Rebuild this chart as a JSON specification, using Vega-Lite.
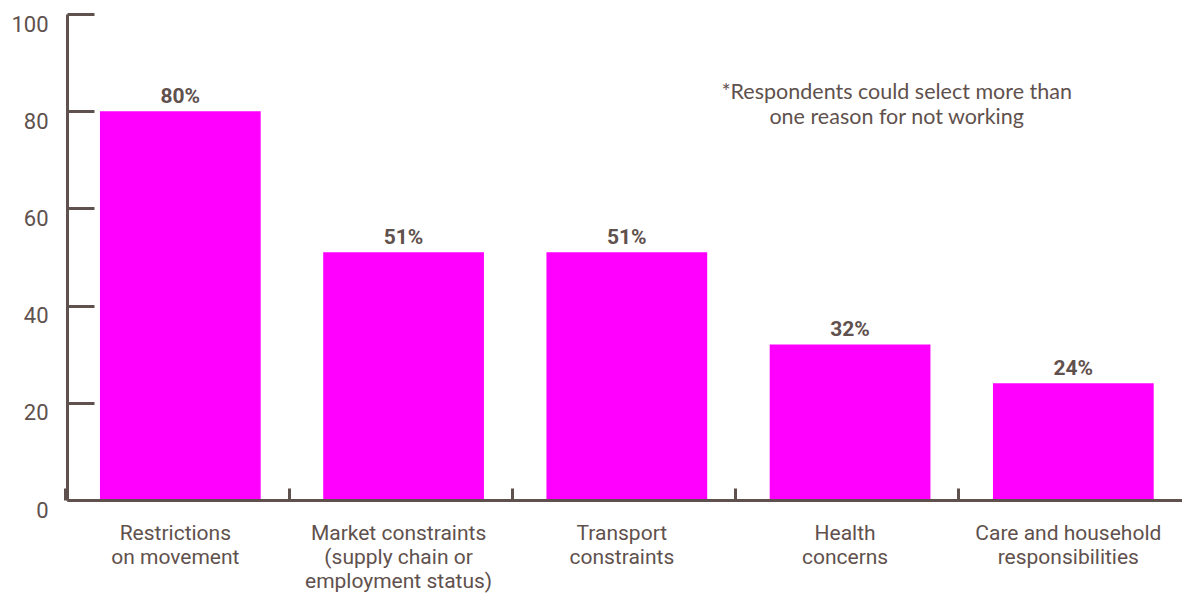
{
  "$schema": "https://vega.github.io/schema/vega-lite/v6.json",
  "width": 1115,
  "height": 486,
  "autosize": {"type": "none"},
  "padding": {"left": 67, "top": 14, "right": 0, "bottom": 96},
  "background": "white",
  "config": {"view": {"stroke": null}},
  "data": {
    "values": [
      {"reason": "Restrictions\non movement", "pct": 80, "label": "80%"},
      {"reason": "Market constraints\n(supply chain or\nemployment status)", "pct": 51, "label": "51%"},
      {"reason": "Transport\nconstraints", "pct": 51, "label": "51%"},
      {"reason": "Health\nconcerns", "pct": 32, "label": "32%"},
      {"reason": "Care and household\nresponsibilities", "pct": 24, "label": "24%"}
    ]
  },
  "encoding": {
    "x": {
      "field": "reason",
      "type": "nominal",
      "sort": null,
      "scale": {"paddingInner": 0.28, "paddingOuter": 0.1372, "align": 0.538},
      "axis": {
        "title": null,
        "zindex": 1,
        "bandPosition": -0.2116,
        "labelAngle": 0,
        "labelExpr": "split(datum.label, '\\n')",
        "labelFont": "Roboto",
        "labelFontSize": 21,
        "labelLimit": 0,
        "labelColor": "#5f514d",
        "labelLineHeight": 24,
        "labelBaseline": "top",
        "labelPadding": 34,
        "labelOffset": -5,
        "tickSize": -12,
        "tickWidth": 3,
        "tickColor": "#5f514d",
        "domainColor": "#5f514d",
        "domainWidth": 3
      }
    },
    "y": {
      "field": "pct",
      "type": "quantitative",
      "scale": {"domain": [0, 100]},
      "axis": {
        "title": null,
        "zindex": 1,
        "values": [0, 20, 40, 60, 80, 100],
        "grid": false,
        "labelFont": "Roboto",
        "labelFontSize": 22,
        "labelColor": "#5f514d",
        "labelOffset": 10,
        "labelPadding": 46,
        "tickSize": -27,
        "tickWidth": 3,
        "tickColor": "#5f514d",
        "domainColor": "#5f514d",
        "domainWidth": 3
      }
    }
  },
  "layer": [
    {"mark": {"type": "bar", "color": "#ff00ff"}},
    {
      "mark": {"type": "text", "font": "Roboto", "fontWeight": "bold", "fontSize": 21, "color": "#5f514d", "baseline": "bottom", "dy": -4},
      "encoding": {"text": {"field": "label"}}
    },
    {
      "data": {"values": [{"reason": "Health\nconcerns", "pct": 86, "note": "*Respondents could select more than\none reason for not working"}]},
      "mark": {"type": "text", "font": "Lato", "fontSize": 21.5, "color": "#5f514d", "align": "center", "baseline": "top", "lineBreak": "\n", "lineHeight": 25, "dx": 46.6},
      "encoding": {"text": {"field": "note"}}
    }
  ]
}
